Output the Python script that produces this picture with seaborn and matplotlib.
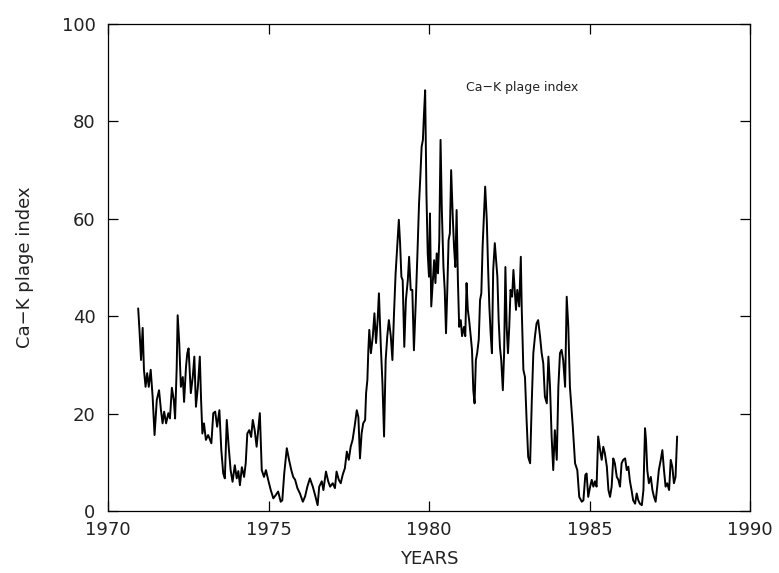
import numpy as np
import pandas as pd
import matplotlib
matplotlib.use("Agg")
import matplotlib.pyplot as plt
import seaborn as sns

# --- data (decimal year, Ca-K plage index) ---
years_71_74 = [1970.94, 1970.98, 1971.03, 1971.08, 1971.12, 1971.17, 1971.22, 1971.27, 1971.33, 1971.39,
               1971.45, 1971.52, 1971.59, 1971.65, 1971.70, 1971.75, 1971.81, 1971.88, 1971.93, 1971.99,
               1972.05, 1972.09, 1972.14, 1972.17, 1972.22, 1972.27, 1972.33, 1972.37, 1972.43, 1972.47,
               1972.51, 1972.58, 1972.64, 1972.69, 1972.74, 1972.80, 1972.86, 1972.90, 1972.94, 1972.99,
               1973.05, 1973.12, 1973.18, 1973.22, 1973.28, 1973.34, 1973.40, 1973.47, 1973.53, 1973.59,
               1973.64, 1973.70, 1973.76, 1973.82, 1973.88, 1973.95, 1974.01, 1974.06, 1974.11, 1974.17,
               1974.24, 1974.29, 1974.34, 1974.40, 1974.46, 1974.51, 1974.57, 1974.63, 1974.68, 1974.73]
index_71_74 = [41.6, 37.2, 31.0, 37.6, 29.0, 25.5, 28.3, 25.5, 29.0, 23.5,
               15.6, 22.8, 24.8, 20.7, 18.0, 20.4, 18.0, 20.1, 19.0, 25.3,
               22.8, 19.0, 29.4, 40.2, 34.4, 25.5, 27.5, 22.4, 29.6, 32.4,
               33.4, 24.2, 27.5, 31.7, 21.4, 25.5, 31.7, 22.8, 15.9, 18.0,
               14.6, 15.6, 14.6, 13.9, 20.1, 20.4, 17.3, 20.7, 12.5, 7.7,
               6.7, 18.7, 13.2, 8.4, 6.0, 9.4, 6.7, 8.2, 5.3, 9.0,
               7.0, 9.8, 15.9, 16.6, 15.2, 18.7, 16.6, 13.2, 16.6, 20.1]

years_75_78 = [1974.79, 1974.86, 1974.92, 1974.99, 1975.07, 1975.15, 1975.23, 1975.30, 1975.38, 1975.43,
               1975.49, 1975.57, 1975.64, 1975.71, 1975.77, 1975.83, 1975.90, 1975.98, 1976.07, 1976.14,
               1976.21, 1976.29, 1976.38, 1976.45, 1976.53, 1976.58, 1976.66, 1976.71, 1976.79, 1976.86,
               1976.92, 1977.00, 1977.07, 1977.12, 1977.19, 1977.25, 1977.31, 1977.38, 1977.44, 1977.50,
               1977.56, 1977.62, 1977.69, 1977.75, 1977.80, 1977.85, 1977.90, 1977.95, 1978.01, 1978.04,
               1978.08]
index_75_78 = [8.4, 7.0, 8.4, 6.4, 4.3, 2.6, 3.3, 4.0, 1.9, 2.2,
               7.7, 12.9, 10.5, 8.4, 7.0, 6.4, 4.7, 3.6, 1.9, 3.0,
               5.0, 6.7, 5.0, 3.3, 1.2, 5.0, 6.1, 4.3, 8.1, 6.1,
               5.0, 5.7, 4.7, 8.1, 6.4, 5.7, 7.4, 8.8, 12.2, 10.5,
               13.2, 14.6, 17.7, 20.7, 19.3, 10.8, 15.9, 18.0, 18.7, 24.2,
               26.9]

years_78_82 = [1978.11, 1978.14, 1978.19, 1978.25, 1978.30, 1978.35, 1978.40, 1978.44, 1978.50, 1978.55,
               1978.60, 1978.65, 1978.70, 1978.75, 1978.81, 1978.86, 1978.91, 1978.96, 1979.01, 1979.06,
               1979.10, 1979.14, 1979.18, 1979.23, 1979.28, 1979.34, 1979.38, 1979.43, 1979.48, 1979.53,
               1979.59, 1979.64, 1979.69, 1979.73, 1979.77, 1979.81, 1979.84, 1979.88, 1979.92, 1979.96,
               1980.00, 1980.03, 1980.07, 1980.11, 1980.16, 1980.20, 1980.24, 1980.28, 1980.32, 1980.36,
               1980.40, 1980.45, 1980.49, 1980.53, 1980.57, 1980.61, 1980.65, 1980.69, 1980.74, 1980.78,
               1980.82, 1980.86, 1980.90, 1980.94, 1980.99, 1981.03, 1981.09, 1981.13, 1981.17, 1981.21,
               1981.25, 1981.30, 1981.34, 1981.38, 1981.42, 1981.46, 1981.50, 1981.55, 1981.59, 1981.63,
               1981.67, 1981.71, 1981.75, 1981.80, 1981.84, 1981.88, 1981.92, 1981.96, 1982.00, 1982.05,
               1982.09, 1982.13, 1982.17, 1982.21, 1982.25, 1982.30, 1982.34, 1982.38, 1982.42, 1982.46,
               1982.50, 1982.54, 1982.59, 1982.63, 1982.67, 1982.71, 1982.75, 1982.81]
index_78_82 = [33.0, 37.2, 32.4, 35.9, 40.6, 34.5, 39.2, 44.7, 33.7, 26.2,
               15.3, 31.0, 35.9, 39.2, 35.9, 31.0, 40.6, 48.8, 54.3, 59.8,
               54.9, 48.1, 47.4, 33.7, 43.3, 47.4, 52.2, 45.4, 45.4, 33.0,
               43.3, 52.9, 63.2, 68.6, 74.8, 76.2, 81.0, 86.4, 65.2, 52.9,
               48.1, 61.1, 42.0, 46.1, 51.5, 46.8, 52.9, 48.8, 55.6, 76.2,
               61.8, 50.1, 45.4, 36.5, 45.4, 55.6, 57.0, 70.0, 60.4, 54.2,
               50.1, 61.8, 47.4, 37.8, 39.2, 35.9, 37.8, 35.9, 46.8, 41.3,
               39.2, 35.9, 33.0, 24.8, 22.1, 31.0, 32.4, 35.2, 43.3, 44.7,
               54.3, 60.4, 66.6, 59.8, 50.1, 42.0, 36.5, 32.4, 49.5, 55.0,
               51.5, 48.1, 39.2, 33.7, 31.0, 24.8, 32.4, 50.1, 37.8, 32.4,
               37.8, 45.4, 44.0, 49.5, 45.4, 41.3, 45.4, 42.0]

years_83_87 = [1982.86, 1982.89, 1982.94, 1982.99, 1983.04, 1983.09, 1983.15, 1983.20, 1983.25, 1983.30,
               1983.35, 1983.40, 1983.46, 1983.51, 1983.56, 1983.61, 1983.67, 1983.72, 1983.77, 1983.82,
               1983.87, 1983.92, 1983.98, 1984.03, 1984.08, 1984.13, 1984.18, 1984.24, 1984.29, 1984.34,
               1984.39, 1984.48, 1984.55, 1984.62, 1984.68, 1984.76, 1984.81, 1984.87, 1984.91, 1984.96,
               1985.02, 1985.07, 1985.12, 1985.17, 1985.22, 1985.27, 1985.33, 1985.38, 1985.43, 1985.48,
               1985.54, 1985.59, 1985.64, 1985.69, 1985.74, 1985.79, 1985.85, 1985.90, 1985.95, 1986.00,
               1986.05, 1986.11, 1986.16, 1986.21, 1986.26, 1986.31, 1986.36, 1986.42, 1986.47, 1986.52,
               1986.57, 1986.63, 1986.68, 1986.73, 1986.76, 1986.80, 1986.85, 1986.91, 1986.96, 1987.01,
               1987.06, 1987.11, 1987.16, 1987.22, 1987.27, 1987.32, 1987.37, 1987.42, 1987.48, 1987.53,
               1987.58, 1987.63, 1987.68, 1987.73]
index_83_87 = [52.2, 41.3, 29.0, 27.5, 18.7, 11.1, 9.8, 22.1, 32.4, 35.8,
               38.5, 39.2, 35.8, 32.4, 30.3, 23.5, 22.1, 31.7, 25.5, 15.3,
               8.4, 16.6, 10.5, 25.5, 32.4, 33.1, 31.0, 25.5, 44.0, 37.8,
               25.5, 17.3, 9.8, 8.4, 2.9, 1.9, 2.2, 7.4, 7.7, 2.9,
               5.0, 6.4, 5.0, 6.1, 5.0, 15.3, 12.5, 10.5, 13.2, 11.8,
               9.1, 4.3, 2.9, 5.0, 10.8, 9.8, 7.0, 6.4, 5.0, 9.8,
               10.5, 10.8, 8.4, 9.1, 6.1, 4.3, 2.2, 1.5, 3.6, 2.2,
               1.5, 1.2, 4.3, 17.0, 14.6, 8.4, 5.7, 7.0, 4.3, 2.9,
               1.9, 5.0, 8.4, 10.5, 12.5, 8.4, 5.0, 5.7, 4.3, 10.5,
               9.1, 5.7, 7.0, 15.3]

x_ticks = [1970, 1975, 1980, 1985, 1990]
y_ticks = [0, 20, 40, 60, 80, 100]
annotation = "Ca\u2212K plage index"

df = pd.DataFrame({
    "year": years_71_74 + years_75_78 + years_78_82 + years_83_87,
    "index": index_71_74 + index_75_78 + index_78_82 + index_83_87,
})

sns.set_theme(style="white")
plt.rcParams["font.family"] = ["DejaVu Sans"]

fig = plt.figure(figsize=(7.79, 5.73), dpi=100)
ax = fig.add_axes([108 / 779, 62 / 573, (750 - 108) / 779, (511 - 24) / 573])

sns.lineplot(data=df, x="year", y="index", ax=ax, color="black",
             linewidth=1.4, sort=False, estimator=None)

ax.set_xlim(1970, 1990)
ax.set_ylim(0, 100)
ax.set_xticks(x_ticks)
ax.set_yticks(y_ticks)
ax.tick_params(axis="both", which="major", direction="in", length=7, width=0.9,
               color="black", labelsize=13, labelcolor="#222222",
               top=True, right=True, bottom=True, left=True)
ax.tick_params(axis="x", pad=7)
ax.tick_params(axis="y", pad=9)
for s in ax.spines.values():
    s.set_visible(True)
    s.set_color("black")
    s.set_linewidth(0.9)

ax.set_xlabel("YEARS", fontsize=13, color="#222222", labelpad=8)
ax.set_ylabel("Ca\u2212K plage index", fontsize=13, color="#222222", labelpad=20)
ax.text(1982.9, 87, annotation, fontsize=9, color="#222222", ha="center", va="center")

fig.savefig("out.png", dpi=100)
